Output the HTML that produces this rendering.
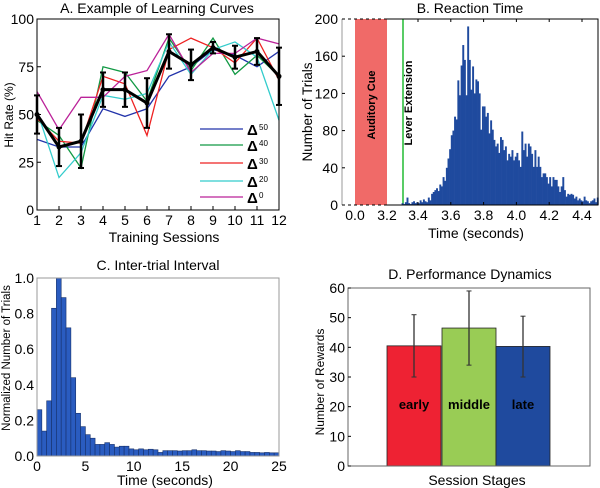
<!DOCTYPE html>
<html><head><meta charset="utf-8">
<style>
body{margin:0;background:#fff;}
svg{display:block;font-family:"Liberation Sans",Arial,sans-serif;}
</style></head>
<body>
<svg id="fig" width="600" height="488" viewBox="0 0 600 488" xmlns="http://www.w3.org/2000/svg">
<g id="pA"></g>
<g id="pB"></g>
<g id="pC"></g>
<g id="pD"></g>
</svg>
<script>
// ---------- Panel A data ----------
const sessions = [1,2,3,4,5,6,7,8,9,10,11,12];
const seriesD50 = [37,33,33,53,49,53,70,75,84,81,75,83];
const seriesD40 = [47,39,22,75,72,57,90,73,90,71,81,70];
const seriesD30 = [48,36,35,70,66,39,84,90,85,77,90,68];
const seriesD20 = [52,17,30,60,58,61,88,71,84,88,80,47];
const seriesD0  = [62,42,59,59,70,73,92,72,82,82,90,87];
const meanRate  = [50,33,36,63,63,56,83,76,85,80,83,70];
const meanErr   = [10,10,14,9,9,13,9,8,3,6,7,15];
const yTicksA = [0,25,50,75,100];
const legendSup = ["50","40","30","20","0"];

// ---------- Panel B data (bins of 0.01 s starting 3.30) ----------
const rtBinStart = 3.30;
const rtBinWidth = 0.01;
const rtCounts = [2,1,3,8,2,1,3,4,2,3,
 2,5,3,6,4,3,8,5,12,14,
 16,18,15,22,20,30,26,40,50,60,
 75,80,95,92,134,118,150,172,156,118,
 192,156,124,149,120,135,133,120,81,106,
 106,95,99,77,91,81,70,63,66,56,
 73,70,59,63,48,55,52,59,48,52,
 56,48,41,79,59,66,52,66,63,55,
 41,59,41,52,41,30,34,34,30,23,
 30,20,30,27,27,20,14,20,30,16,
 9,12,11,12,11,7,9,5,7,5,
 4,9,5,4,2,4,5,7,3,8];
const yTicksB = [0,40,80,120,160,200];
const xTicksB = [3.4,3.6,3.8,4.0,4.2,4.4];

// ---------- Panel C data (bins of 0.5 s) ----------
const itiBinWidth = 0.5;
const itiValues = [0.26,0.14,0.31,0.83,1.0,0.89,0.72,0.44,0.24,0.165,
 0.12,0.1,0.065,0.065,0.075,0.065,0.05,0.055,0.055,0.04,
 0.035,0.04,0.035,0.038,0.035,0.02,0.03,0.03,0.03,0.028,
 0.03,0.03,0.035,0.03,0.03,0.028,0.028,0.025,0.03,0.028,
 0.025,0.03,0.025,0.025,0.02,0.02,0.018,0.02,0.018,0.018];
const xTicksC = [0,5,10,15,20,25];
const yTicksC = [0,0.2,0.4,0.6,0.8,1.0];

// ---------- Panel D data ----------
const stages = ["early","middle","late"];
const rewardMeans = [40.5,46.5,40.3];
const rewardLo = [30,34,30];
const rewardHi = [51,59,50.5];
const yTicksD = [0,10,20,30,40,50,60];

const NS="http://www.w3.org/2000/svg";
function el(parent,tag,attrs,text){
  const e=document.createElementNS(NS,tag);
  for(const k in attrs) e.setAttribute(k,attrs[k]);
  if(text!==undefined) e.textContent=text;
  parent.appendChild(e); return e;
}

// ===== Panel A =====
(function(){
  const g=document.getElementById('pA');
  const L=37,R=279,T=19,B=210;
  const x=v=>L+(v-1)*(R-L)/11, y=v=>B-v*(B-T)/100;
  const t=el(g,'text',{x:157,y:13,'font-size':14,'text-anchor':'middle'},'A. Example of Learning Curves');
   
  yTicksA.forEach(v=>{
    const tx=el(g,'text',{x:L-3,y:y(v)+5,'font-size':14,'text-anchor':'end'},String(v));
     
    el(g,'line',{x1:L,x2:L+4,y1:y(v),y2:y(v),stroke:'#000'});
  });
  sessions.forEach(s=>{
    const tx=el(g,'text',{x:x(s),y:B+15,'font-size':14,'text-anchor':'middle'},String(s));
     
    el(g,'line',{x1:x(s),x2:x(s),y1:B,y2:B-4,stroke:'#000'});
  });
  const xl=el(g,'text',{x:164,y:242,'font-size':14,'text-anchor':'middle'},'Training Sessions');
   
  const yl=el(g,'text',{x:0,y:0,'font-size':12,'text-anchor':'middle',transform:'translate(13,115) rotate(-90)'},'Hit Rate (%)');
   
  const series=[[seriesD50,'#2233aa'],[seriesD40,'#119944'],[seriesD30,'#ee2222'],[seriesD20,'#33cccc'],[seriesD0,'#bb2299']];
  series.forEach((sr,i)=>{
    const p=el(g,'polyline',{points:sr[0].map((v,j)=>x(sessions[j])+','+y(v)).join(' '),fill:'none',stroke:sr[1],'stroke-width':1.3});
     
    const ly=[129,145,163,181,197][i];
    el(g,'line',{x1:200,x2:243,y1:ly,y2:ly,stroke:sr[1],'stroke-width':1.3});
    const lt=el(g,'text',{x:247,y:ly+6,'font-size':15,'font-weight':'bold'},'Δ');
     
    el(g,'text',{x:259,y:ly+1,'font-size':8},legendSup[i]);
  });
  const m=el(g,'polyline',{points:meanRate.map((v,j)=>x(sessions[j])+','+y(v)).join(' '),fill:'none',stroke:'#000','stroke-width':3});
   
  meanRate.forEach((v,j)=>{
    const cx=x(sessions[j]);
    const eb=el(g,'line',{x1:cx,x2:cx,y1:y(v-meanErr[j]),y2:y(v+meanErr[j]),stroke:'#000','stroke-width':2.5});
     
    el(g,'line',{x1:cx-3,x2:cx+3,y1:y(v-meanErr[j]),y2:y(v-meanErr[j]),stroke:'#000','stroke-width':2});
    el(g,'line',{x1:cx-3,x2:cx+3,y1:y(v+meanErr[j]),y2:y(v+meanErr[j]),stroke:'#000','stroke-width':2});
    el(g,'circle',{cx:cx,cy:y(v),r:2.5,fill:'#000'});
  });
  el(g,'rect',{x:L,y:T,width:R-L,height:B-T,fill:'none',stroke:'#000','stroke-width':1});
})();

// ===== Panel B =====
(function(){
  const g=document.getElementById('pB');
  const L=342,R=598,T=19,B=205,BR=387;
  const x=v=>418+(v-3.4)*164, y=v=>B-v*(B-T)/200;
  const t=el(g,'text',{x:470,y:13,'font-size':14,'text-anchor':'middle'},'B. Reaction Time');
   
  const band=el(g,'rect',{x:355,y:T,width:32,height:B-T,fill:'#f06a68'});
   
  const bt=el(g,'text',{x:0,y:0,'font-size':11,'font-weight':'bold','text-anchor':'middle',transform:'translate(375,105) rotate(-90)'},'Auditory Cue');
   
  const gl=el(g,'line',{x1:403,x2:403,y1:T,y2:B,stroke:'#22bb33','stroke-width':1.5});
   
  const glt=el(g,'text',{x:0,y:0,'font-size':11,'font-weight':'bold','text-anchor':'middle',transform:'translate(412,103) rotate(-90)'},'Lever Extension');
   
  rtCounts.forEach((c,i)=>{
    const s=rtBinStart+i*rtBinWidth;
    const x0=x(s), x1=x(s+rtBinWidth);
    const r=el(g,'rect',{x:x0,y:y(c),width:x1-x0+0.3,height:B-y(c),fill:'#1f4a9e'});
     
  });
  el(g,'line',{x1:L,x2:BR,y1:T,y2:T,stroke:'#000','stroke-dasharray':'3,3'});
  el(g,'line',{x1:L,x2:BR,y1:B,y2:B,stroke:'#000','stroke-dasharray':'3,3'});
  el(g,'polyline',{points:`${BR},${T} ${R},${T} ${R},${B} ${BR},${B}`,fill:'none',stroke:'#000'});
  el(g,'line',{x1:L,x2:L,y1:T,y2:B,stroke:'#999'});
  yTicksB.forEach(v=>{
    const tx=el(g,'text',{x:L-4,y:y(v)+5,'font-size':14,'text-anchor':'end'},String(v));
     
    el(g,'line',{x1:L,x2:L+3,y1:y(v),y2:y(v),stroke:'#000'});
  });
  [['0.0',355],['3.2',387]].forEach(a=>{
    const tx=el(g,'text',{x:a[1],y:B+15,'font-size':14,'text-anchor':'middle'},a[0]);
     
  });
  xTicksB.forEach(v=>{
    const tx=el(g,'text',{x:x(v),y:B+15,'font-size':14,'text-anchor':'middle'},v.toFixed(1));
     
    el(g,'line',{x1:x(v),x2:x(v),y1:B,y2:B-3,stroke:'#000'});
    el(g,'line',{x1:x(v),x2:x(v),y1:T,y2:T+3,stroke:'#000'});
  });
  const xl=el(g,'text',{x:476,y:238,'font-size':14,'text-anchor':'middle'},'Time (seconds)');
   
  const yl=el(g,'text',{x:0,y:0,'font-size':13.5,'text-anchor':'middle',transform:'translate(312,112) rotate(-90)'},'Number of Trials');
   
})();

// ===== Panel C =====
(function(){
  const g=document.getElementById('pC');
  const L=37,R=279,T=278,B=456;
  const x=v=>L+v*(R-L)/25, y=v=>B-v*(B-T);
  const t=el(g,'text',{x:158,y:270,'font-size':14,'text-anchor':'middle'},'C. Inter-trial Interval');
   
  itiValues.forEach((v,i)=>{
    const x0=x(i*itiBinWidth), x1=x((i+1)*itiBinWidth);
    const r=el(g,'rect',{x:x0,y:y(v),width:x1-x0,height:B-y(v),fill:'#2a5cc0',stroke:'#16306a','stroke-width':0.6});
     
  });
  el(g,'rect',{x:L,y:T,width:R-L,height:B-T,fill:'none',stroke:'#999'});
  yTicksC.forEach(v=>{
    const tx=el(g,'text',{x:L-3,y:y(v)+5,'font-size':14,'text-anchor':'end'},v.toFixed(1));
     
  });
  xTicksC.forEach(v=>{
    const tx=el(g,'text',{x:x(v),y:B+15,'font-size':14,'text-anchor':'middle'},String(v));
     
  });
  const xl=el(g,'text',{x:165,y:485,'font-size':14,'text-anchor':'middle'},'Time (seconds)');
   
  const yl=el(g,'text',{x:0,y:0,'font-size':11.5,'text-anchor':'middle',transform:'translate(10,358) rotate(-90)'},'Normalized Number of Trials');
   
})();

// ===== Panel D =====
(function(){
  const g=document.getElementById('pD');
  const L=348,R=590,T=288,B=466;
  const y=v=>B-v*(B-T)/60;
  const colors=['#ee2233','#99cc55','#1f4a9e'];
  const bx=[387,442,496], bw=54;
  const t=el(g,'text',{x:470,y:279,'font-size':14,'text-anchor':'middle'},'D. Performance Dynamics');
   
  rewardMeans.forEach((v,i)=>{
    const r=el(g,'rect',{x:bx[i],y:y(v),width:bw,height:B-y(v),fill:colors[i],stroke:'#222','stroke-width':0.8});
     
    const cx=bx[i]+bw/2;
    const eb=el(g,'line',{x1:cx,x2:cx,y1:y(rewardLo[i]),y2:y(rewardHi[i]),stroke:'#333','stroke-width':1.3});
     
    el(g,'line',{x1:cx-2.5,x2:cx+2.5,y1:y(rewardLo[i]),y2:y(rewardLo[i]),stroke:'#333'});
    el(g,'line',{x1:cx-2.5,x2:cx+2.5,y1:y(rewardHi[i]),y2:y(rewardHi[i]),stroke:'#333'});
    const lb=el(g,'text',{x:cx,y:409,'font-size':13,'font-weight':'bold','text-anchor':'middle'},stages[i]);
     
  });
  el(g,'rect',{x:L,y:T,width:R-L,height:B-T,fill:'none',stroke:'#666'});
  yTicksD.forEach(v=>{
    const tx=el(g,'text',{x:L-3,y:y(v)+5,'font-size':14,'text-anchor':'end'},String(v));
     
    el(g,'line',{x1:L,x2:L+3,y1:y(v),y2:y(v),stroke:'#000'});
  });
  const xl=el(g,'text',{x:477,y:485,'font-size':14,'text-anchor':'middle'},'Session Stages');
   
  const yl=el(g,'text',{x:0,y:0,'font-size':12,'text-anchor':'middle',transform:'translate(324,382) rotate(-90)'},'Number of Rewards');
   
})();
</script>
</body></html>
